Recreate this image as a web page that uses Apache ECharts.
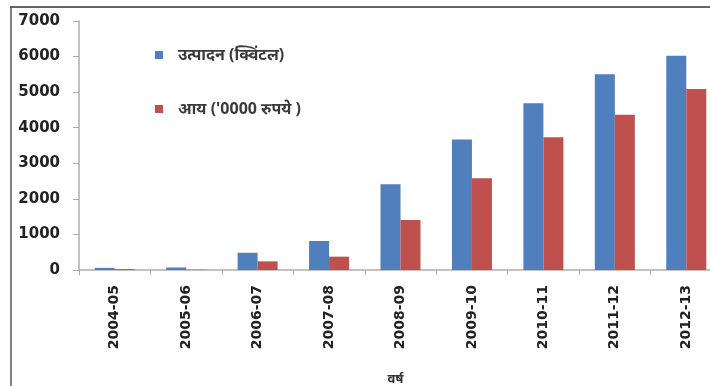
<!DOCTYPE html>
<html>
<head>
<meta charset="utf-8">
<script src="https://cdn.jsdelivr.net/npm/echarts@6/dist/echarts.min.js"></script>
<style>
  html, body { margin: 0; padding: 0; background: #ffffff; overflow: hidden; }
  #chart { width: 710px; height: 386px; }
</style>
</head>
<body>
<div id="chart"></div>
<script>
// Years on the category axis
const years = ['2004-05', '2005-06', '2006-07', '2007-08', '2008-09', '2009-10', '2010-11', '2011-12', '2012-13'];
// Production (quintals)
const production = [60, 70, 485, 815, 2410, 3670, 4690, 5500, 6020];
// Income ('0000 rupees)
const income = [25, 10, 243, 375, 1405, 2578, 3730, 4366, 5090];
// Value axis ticks
const yTicks = [0, 1000, 2000, 3000, 4000, 5000, 6000, 7000];

const seriesNames = ['उत्पादन (क्विंटल)', "आय ('0000 रुपये )"];
const fontStack = '"Noto Sans", "Lohit Devanagari", "Noto Sans Devanagari", "DejaVu Sans", sans-serif';

const chart = echarts.init(document.getElementById('chart'), null, { renderer: 'canvas' });

chart.setOption({
  backgroundColor: '#ffffff',
  animation: false,
  textStyle: { fontFamily: fontStack },
  // the plot area runs slightly past the right edge, so keep its box as given
  grid: { left: 79, top: 21, width: 643, height: 249, containLabel: false, outerBoundsMode: 'none' },
  legend: {
    orient: 'vertical',
    left: 150,
    top: 42,
    itemWidth: 8,
    itemHeight: 8,
    itemGap: 38,
    icon: 'rect',
    data: seriesNames,
    textStyle: { fontSize: 16, fontWeight: 'bold', color: '#3a3a3a', padding: [0, 0, 0, 10], fontFamily: fontStack }
  },
  xAxis: {
    type: 'category',
    data: years,
    name: 'वर्ष',
    nameLocation: 'middle',
    nameGap: 103,
    nameTextStyle: { fontSize: 13, fontWeight: 'bold', color: '#333', fontFamily: fontStack, padding: [0, 10, 0, 0] },
    axisLine: { lineStyle: { color: '#b9aaa4', width: 1.5 } },
    axisTick: { show: true, length: 5, alignWithLabel: false, lineStyle: { color: '#b9aaa4' } },
    axisLabel: {
      rotate: 90,
      margin: 15,
      fontSize: 14,
      fontWeight: 'bold',
      color: '#222',
      fontFamily: '"DejaVu Sans", sans-serif'
    },
    splitLine: { show: false }
  },
  yAxis: {
    type: 'value',
    min: yTicks[0],
    max: yTicks[yTicks.length - 1],
    interval: 1000,
    axisLine: { show: true, lineStyle: { color: '#b9aaa4', width: 1.5 } },
    axisTick: { show: true, length: 6, lineStyle: { color: '#b9aaa4' } },
    axisLabel: {
      margin: 19,
      fontSize: 15,
      fontWeight: 'bold',
      color: '#222',
      fontFamily: '"DejaVu Sans", sans-serif',
      formatter: (v) => String(v)
    },
    splitLine: { show: false }
  },
  series: [
    {
      name: seriesNames[0],
      type: 'bar',
      data: production,
      barWidth: 20,
      barGap: '0%',
      itemStyle: { color: '#4F7FBD' }
    },
    {
      name: seriesNames[1],
      type: 'bar',
      data: income,
      barWidth: 20,
      itemStyle: { color: '#C0504D' }
    }
  ],
  graphic: [
    // frame lines along the top and left edge
    { type: 'line', shape: { x1: 10, y1: 7, x2: 710, y2: 7 }, style: { stroke: '#333', lineWidth: 1.5 } },
    { type: 'line', shape: { x1: 11, y1: 7, x2: 11, y2: 386 }, style: { stroke: '#555', lineWidth: 1.5 } }
  ]
});
</script>
</body>
</html>
